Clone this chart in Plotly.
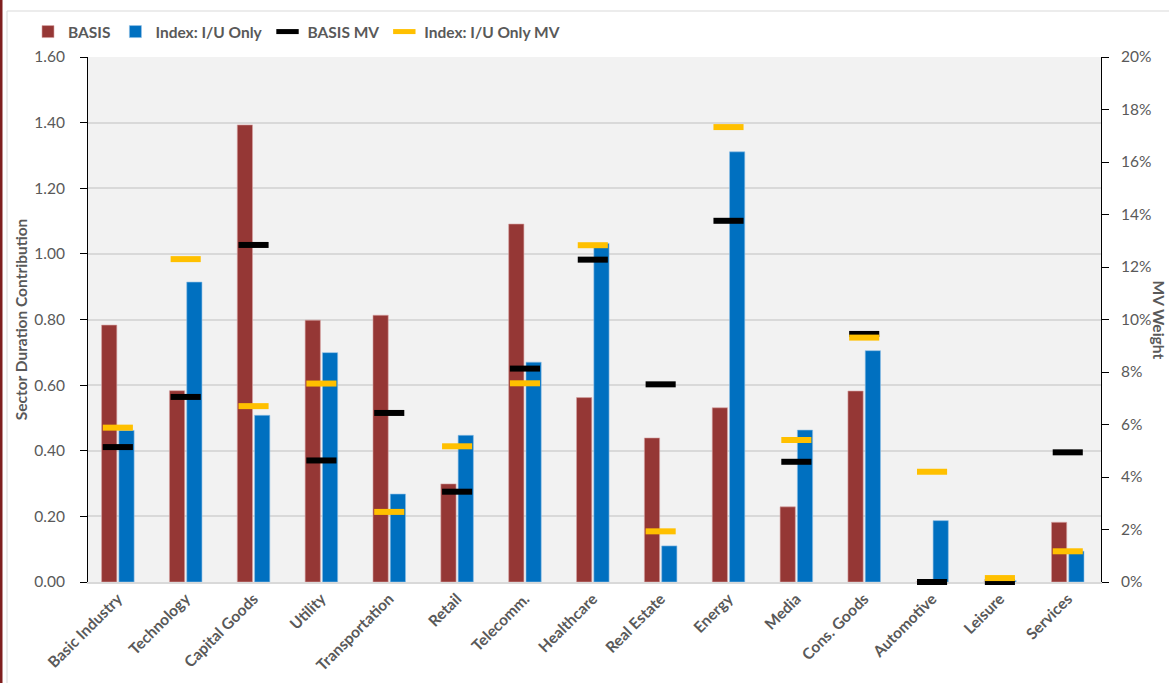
import plotly.graph_objects as go

sectors = ["Basic Industry", "Technology", "Capital Goods", "Utility", "Transportation",
           "Retail", "Telecomm.", "Healthcare", "Real Estate", "Energy", "Media",
           "Cons. Goods", "Automotive", "Leisure", "Services"]

basis_dur = [0.783, 0.583, 1.393, 0.798, 0.813, 0.299, 1.091, 0.562, 0.439, 0.531,
             0.229, 0.582, 0.0, 0.0, 0.182]
index_dur = [0.462, 0.914, 0.508, 0.699, 0.268, 0.447, 0.670, 1.032, 0.110, 1.311,
             0.463, 0.705, 0.187, 0.004, 0.094]

basis_mv = [5.14, 7.05, 12.84, 4.63, 6.44, 3.44, 8.13, 12.28, 7.53, 13.76,
            4.58, 9.45, 0.0, 0.0, 4.94]
index_mv = [5.88, 12.30, 6.70, 7.56, 2.67, 5.17, 7.57, 12.83, 1.93, 17.33,
            5.41, 9.31, 4.20, 0.15, 1.17]

left_ticks = [0.0, 0.2, 0.4, 0.6, 0.8, 1.0, 1.2, 1.4, 1.6]
right_ticks = [0, 2, 4, 6, 8, 10, 12, 14, 16, 18, 20]

FONT = "Lato"
GREY = "#595959"
FS = 15.5

fig = go.Figure()
fig.add_trace(go.Bar(x=sectors, y=basis_dur, name="BASIS",
                     marker=dict(color="#953735", line=dict(color="#d9a5a4", width=0.6))))
fig.add_trace(go.Bar(x=sectors, y=index_dur, name="Index: I/U Only",
                     marker=dict(color="#0070C0", line=dict(color="#8fc0e6", width=0.6))))
# line-ew glyph length is 1.4 x size -> ~30 px dashes
fig.add_trace(go.Scatter(x=sectors, y=[v / 100 for v in basis_mv], name="BASIS MV",
                         yaxis="y2", mode="markers", cliponaxis=False,
                         marker=dict(symbol="line-ew", size=21.5,
                                     line=dict(color="#000000", width=6))))
fig.add_trace(go.Scatter(x=sectors, y=[v / 100 for v in index_mv], name="Index: I/U Only MV",
                         yaxis="y2", mode="markers", cliponaxis=False,
                         marker=dict(symbol="line-ew", size=21.5,
                                     line=dict(color="#FFC000", width=6))))

# px -> paper helpers for the frame decorations
L, R, T, B = 88, 1101, 57, 582
def px_x(p):
    return (p - L) / (R - L)
def px_y(p):
    return (B - p) / (B - T)

fig.update_layout(
    width=1169, height=683,
    margin=dict(l=L, r=1169 - R, t=T, b=683 - B),
    paper_bgcolor="white",
    plot_bgcolor="#f2f2f2",
    barmode="group",
    bargap=0.49,
    bargroupgap=0.12,
    font=dict(family=FONT, color=GREY, size=FS),
    showlegend=True,
    legend=dict(orientation="h", x=px_x(28), y=px_y(32), xanchor="left", yanchor="middle",
                font=dict(family=FONT, size=FS, color=GREY, weight="bold"),
                bgcolor="rgba(0,0,0,0)", itemwidth=30, traceorder="normal"),
    xaxis=dict(range=[-0.44, 14.49], tickangle=-45, showgrid=False, ticks="",
               showline=True, linecolor="#d9d9d9", linewidth=1.5,
               automargin=False, layer="below traces",
               tickfont=dict(family=FONT, size=FS, color=GREY, weight="bold")),
    yaxis=dict(range=[0, 1.6], tickvals=left_ticks, tickformat=".2f",
               showgrid=True, gridcolor="#d9d9d9", gridwidth=1.5,
               showline=True, linecolor="#000000", linewidth=1,
               ticks="outside", ticklen=7, tickcolor="#000000",
               ticklabelstandoff=12, automargin=False,
               zeroline=False,
               tickfont=dict(family=FONT, size=FS, color=GREY),
               title=dict(text="Sector Duration Contribution", standoff=2,
                          font=dict(family=FONT, size=FS, color=GREY, weight="bold"))),
    yaxis2=dict(range=[0, 0.20], overlaying="y", side="right",
                tickvals=[t / 100 for t in right_ticks], tickformat=".0%",
                showgrid=False, zeroline=False, automargin=False,
                showline=True, linecolor="#000000", linewidth=1,
                ticks="outside", ticklen=7, tickcolor="#000000",
                ticklabelstandoff=9,
                tickfont=dict(family=FONT, size=FS, color=GREY)),
)

# right axis title, reading top to bottom
fig.add_annotation(text="MV Weight", xref="paper", yref="paper",
                   x=px_x(1159), y=0.5, xanchor="center", yanchor="middle",
                   textangle=90, showarrow=False,
                   font=dict(family=FONT, size=FS, color=GREY, weight="bold"))

# outer frame: dark red edge on the left, light grey chart border
fig.add_shape(type="rect", xref="paper", yref="paper",
              x0=px_x(0), x1=px_x(2.5), y0=px_y(683), y1=px_y(0),
              fillcolor="#7f1f1f", line=dict(width=0), layer="above")
fig.add_shape(type="line", xref="paper", yref="paper",
              x0=px_x(7), x1=px_x(1169), y0=px_y(11), y1=px_y(11),
              line=dict(color="#d9d9d9", width=1))
fig.add_shape(type="line", xref="paper", yref="paper",
              x0=px_x(7), x1=px_x(7), y0=px_y(683), y1=px_y(11),
              line=dict(color="#d9d9d9", width=1))

fig.write_html("out.html")
